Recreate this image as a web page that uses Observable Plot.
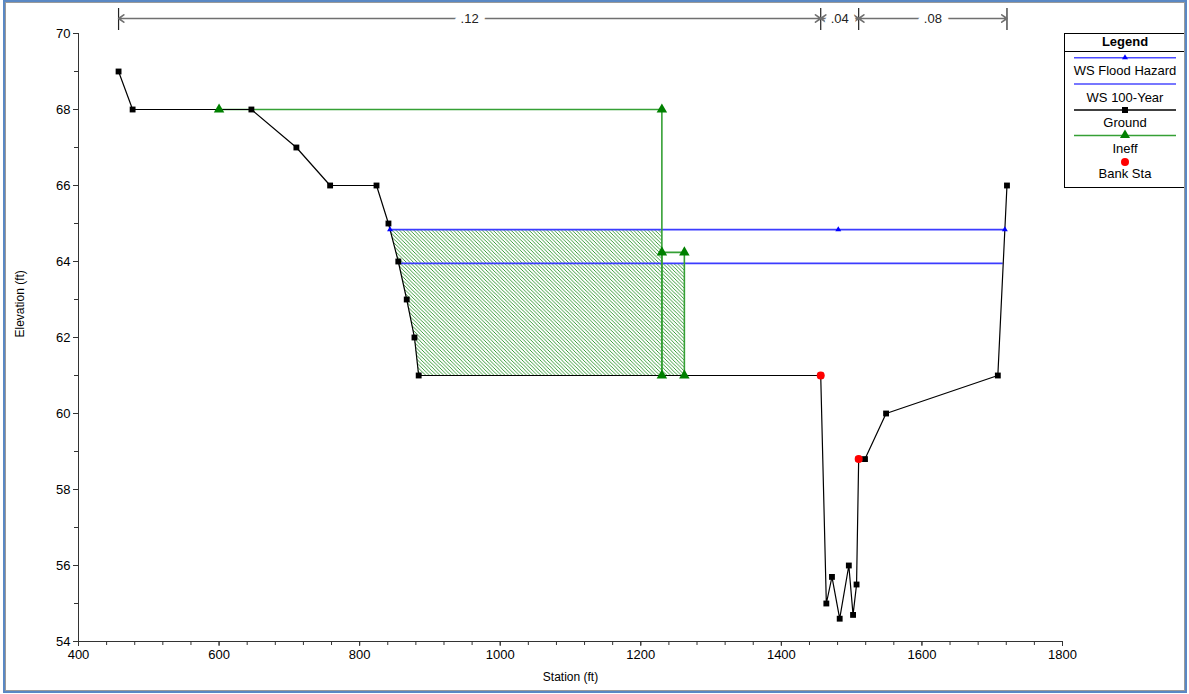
<!DOCTYPE html>
<html><head><meta charset="utf-8">
<script src="https://cdn.jsdelivr.net/npm/d3@7"></script>
<script src="https://cdn.jsdelivr.net/npm/@observablehq/plot@0.6"></script>
<style>
body{margin:0;background:#fff;font-family:"Liberation Sans",Arial,sans-serif;}
#wrap{position:relative;width:1189px;height:694px;overflow:hidden;background:#fff;}
#frame{position:absolute;left:3px;top:0px;width:1184px;height:693px;box-sizing:border-box;border:2px solid #5a88c4;pointer-events:none;}
#frame2{position:absolute;left:5px;top:2px;width:1180px;height:689px;box-sizing:border-box;border:1px solid #9a9a9a;pointer-events:none;}
#legend{position:absolute;left:1064px;top:33px;}
svg{display:block;}
</style>
</head><body>
<div id="wrap"><div id="chart"></div><div id="legend"></div><div id="frame2"></div><div id="frame"></div></div>
<script>
// ---- data ----
const groundStation = [457,477,646,710,758,824,841,855,867,878,884,1456,1464,1472,1483,1496,1502,1507,1510,1519,1549,1708,1721];
const groundElev    = [69,68,68,67,66,66,65,64,63,62,61,61,55,55.7,54.6,56,54.7,55.5,58.8,58.8,60,61,66];
const bankStations  = [1456,1510];
const profileNames  = ["WS Flood Hazard","WS 100-Year"];
const profileElev   = [64.84,63.95];
const floodMidMarkers = [1481];
const ineffStart    = [600,1230];
const ineffEnd      = [1230,1262];
const ineffElev     = [68,64.24];
const nValues       = [".12",".04",".08"];
const xTicks        = [400,600,800,1000,1200,1400,1600,1800];
const yTicks        = [54,56,58,60,62,64,66,68,70];

// ---- helpers derived from the data ----
const ground = groundStation.map((x,i)=>({x, y:groundElev[i]}));
function groundAt(x){
  for(let i=0;i<ground.length-1;i++){
    const a=ground[i], b=ground[i+1];
    if(x>=a.x && x<=b.x){ return a.y+(b.y-a.y)*(x-a.x)/(b.x-a.x); }
  }
  return NaN;
}
function leftCross(L){
  for(let i=0;i<ground.length-1;i++){
    const a=ground[i], b=ground[i+1];
    if(a.y>=L && b.y<L) return a.x+(b.x-a.x)*(a.y-L)/(a.y-b.y);
  }
}
function rightCross(L){
  for(let i=ground.length-2;i>=0;i--){
    const a=ground[i], b=ground[i+1];
    if(a.y<L && b.y>=L) return a.x+(b.x-a.x)*(L-a.y)/(b.y-a.y);
  }
}
const profiles = profileElev.map((e,i)=>({name:profileNames[i], y:e, x1:leftCross(e), x2:rightCross(e)}));
const banks = bankStations.map(x=>({x, y:groundAt(x)}));

// ineffective area outlines
const ineffPaths = [], ineffPts = [];
ineffStart.forEach((s,i)=>{
  const e=ineffEnd[i], h=ineffElev[i];
  const pts=[{x:s,y:groundAt(s)},{x:s,y:h},{x:e,y:h},{x:e,y:groundAt(e)}];
  pts.forEach(p=>{ineffPaths.push({...p,k:i});});
  pts.forEach(p=>{ if(!ineffPts.some(q=>q.x===p.x&&Math.abs(q.y-p.y)<1e-9)) ineffPts.push(p); });
});

// hatched (ineffective, below water) regions
const hatchSets = ineffStart.map((s,i)=>{
  const e=ineffEnd[i];
  const wet = profileElev.filter(w=>w<ineffElev[i]);
  const top = Math.max(...wet);
  let xs=[s, e, ...groundStation.filter(x=>x>s&&x<e)];
  const lc=leftCross(top); if(lc>s&&lc<e) xs.push(lc);
  xs = xs.filter(x=>groundAt(x)<=top+1e-9 || x===lc).sort((a,b)=>a-b);
  const x0 = Math.max(s, lc);
  xs = xs.filter(x=>x>=x0);
  return xs.map(x=>({x, y1:Math.min(groundAt(x),top), y2:top, k:i}));
}).flat();

const floodMarkers = [profiles[0].x1, ...floodMidMarkers, profiles[0].x2].map(x=>({x,y:profiles[0].y}));

// Manning's n brackets
const nStations = [groundStation[0], ...bankStations, groundStation[groundStation.length-1]];
const nY = 70 + 15/38;
const nArrows = [], nLabels=[];
nValues.forEach((v,i)=>{
  const a=nStations[i], b=nStations[i+1], c=(a+b)/2;
  nArrows.push({x1:c,x2:a},{x1:c,x2:b});
  nLabels.push({x:c,text:v});
});

const font='"Liberation Sans", Arial, sans-serif';
const blue="#3c3cff", green="#35a035", dgreen="#008000";

const plot = Plot.plot({
  width:1189, height:694,
  marginLeft:78, marginRight:127, marginTop:33, marginBottom:53,
  x:{domain:[400,1800], axis:null},
  y:{domain:[54,70], axis:null},
  style:{fontFamily:font, fontSize:"13px", background:"transparent", overflow:"visible", color:"#000"},
  marks:[
    Plot.areaY(hatchSets,{x:"x", y1:"y1", y2:"y2", z:"k", fill:"url(#hatch)", curve:"linear"}),
    Plot.ruleY(profiles,{y:"y", x1:"x1", x2:"x2", stroke:blue, strokeWidth:1.6}),
    Plot.line(ineffPaths,{x:"x", y:"y", z:"k", stroke:green, strokeWidth:1.6}),
    Plot.line(ground,{x:"x", y:"y", stroke:"#000", strokeWidth:1.2}),
    Plot.dot(ground,{x:"x", y:"y", symbol:"square", r:3.3, fill:"#000"}),
    Plot.dot(ineffPts,{x:"x", y:"y", symbol:"triangle", r:3.9, fill:dgreen}),
    Plot.dot(floodMarkers,{x:"x", y:"y", symbol:"triangle", r:2.2, fill:"#0000ff"}),
    Plot.dot(banks,{x:"x", y:"y", r:4, fill:"#ff0000"}),
    // axes
    Plot.ruleY([54],{stroke:"#333"}),
    Plot.ruleX([400],{stroke:"#333"}),
    Plot.axisX({ticks:d3.range(400,1801,40), tickSize:4, tickFormat:()=>"", label:null, stroke:"#333"}),
    Plot.axisX({ticks:xTicks, tickSize:5, tickPadding:3, tickFormat:d=>String(d), label:null, fontSize:13, stroke:"#333"}),
    Plot.axisY({ticks:d3.range(54,70.1,1), tickSize:4, tickFormat:()=>"", label:null, stroke:"#333"}),
    Plot.axisY({ticks:yTicks, tickSize:5, tickPadding:3, tickFormat:d=>String(d), label:null, fontSize:13, stroke:"#333"}),
    Plot.text(["Station (ft)"],{frameAnchor:"bottom", dy:39, fontSize:12}),
    Plot.text(["Elevation (ft)"],{frameAnchor:"left", dx:-58, rotate:-90, fontSize:12}),
    // Manning's n annotation
    Plot.ruleX(nStations,{x:d=>d, y1:()=>70+25/38, y2:()=>70+3/38, stroke:"#222", strokeWidth:1.2}),
    Plot.arrow(nArrows,{x1:"x1", x2:"x2", y1:()=>nY, y2:()=>nY, stroke:"#707070", strokeWidth:1.6, headLength:6, headAngle:70, bend:0}),
    Plot.text(nLabels,{x:"x", y:()=>nY, text:"text", fill:"#222", stroke:"white", strokeWidth:14, fontSize:13})
  ]
});
const ns="http://www.w3.org/2000/svg";
const defs=document.createElementNS(ns,"defs");
defs.innerHTML='<pattern id="hatch" patternUnits="userSpaceOnUse" width="3.6" height="3.6"><path d="M-1,-1L4.6,4.6M-1,2.6L1,4.6M2.6,-1L4.6,1" stroke="#1a8c1a" stroke-width="0.85" fill="none"/></pattern>';
plot.insertBefore(defs, plot.firstChild);
document.getElementById("chart").appendChild(plot);

// ---- legend ----
const W=122,H=155;
const items=[
  {label:profileNames[0], ly:24.7, ty:41.5, stroke:"#4a4aff", sym:"tri-small"},
  {label:profileNames[1], ly:51, ty:68.5, stroke:"#4a4aff", sym:null},
  {label:"Ground", ly:77, ty:94, stroke:"#000", sym:"square"},
  {label:"Ineff", ly:102.5, ty:119.5, stroke:green, sym:"tri"},
  {label:"Bank Sta", ly:129, ty:145, stroke:null, sym:"dot"}
];
let s=`<svg xmlns="${ns}" width="${W}" height="${H}" style="font-family:${font}">`;
s+=`<rect x="0.5" y="0.5" width="${W-1}" height="${H-1}" fill="#fff" stroke="#000"/>`;
s+=`<text x="${W/2}" y="13" text-anchor="middle" font-weight="bold" font-size="13">Legend</text>`;
s+=`<line x1="0" x2="${W}" y1="18.5" y2="18.5" stroke="#000"/>`;
items.forEach(it=>{
  const cx=W/2;
  if(it.stroke) s+=`<line x1="10" x2="112" y1="${it.ly}" y2="${it.ly}" stroke="${it.stroke}" stroke-width="1.5"/>`;
  if(it.sym==="tri-small") s+=`<path d="M${cx},${it.ly-3.5}L${cx+3},${it.ly+1.5}L${cx-3},${it.ly+1.5}Z" fill="#0000ff"/>`;
  if(it.sym==="tri") s+=`<path d="M${cx},${it.ly-6}L${cx+5},${it.ly+2.5}L${cx-5},${it.ly+2.5}Z" fill="${dgreen}"/>`;
  if(it.sym==="square") s+=`<rect x="${cx-3}" y="${it.ly-3}" width="6" height="6" fill="#000"/>`;
  if(it.sym==="dot") s+=`<circle cx="${cx}" cy="${it.ly}" r="4" fill="#ff0000"/>`;
  s+=`<text x="${cx}" y="${it.ty}" text-anchor="middle" font-size="13">${it.label}</text>`;
});
s+=`</svg>`;
document.getElementById("legend").innerHTML=s;
</script>
</body></html>
